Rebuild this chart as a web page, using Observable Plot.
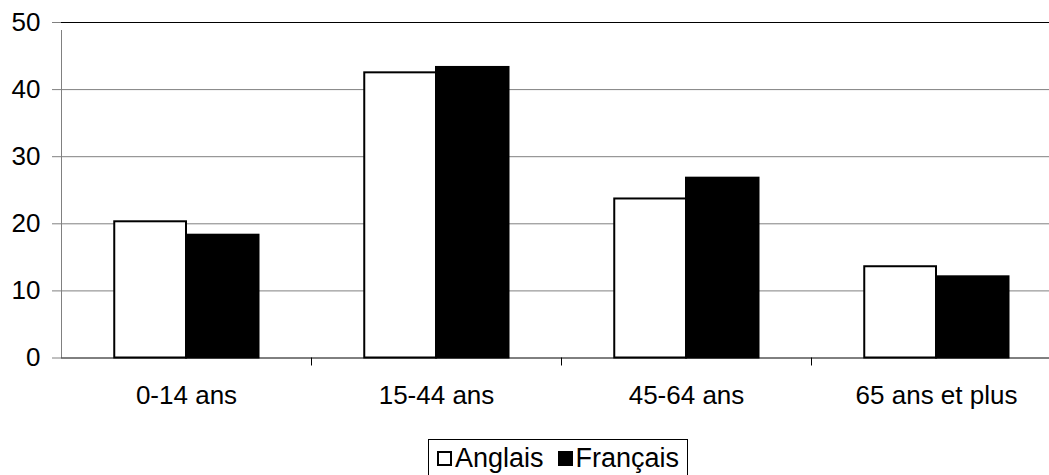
<!DOCTYPE html>
<html><head><meta charset="utf-8">
<script src="https://cdn.jsdelivr.net/npm/d3@7"></script>
<script src="https://cdn.jsdelivr.net/npm/@observablehq/plot@0.6"></script>
<style>
body{margin:0;background:#fff;overflow:hidden;font-family:"Liberation Sans",Arial,sans-serif;}
#chart{position:relative;}
#legend{position:absolute;left:428px;top:439px;height:44px;border:1px solid #000;box-sizing:border-box;display:flex;align-items:flex-start;padding:3px 8px 0 8px;font-size:27px;line-height:30px;background:#fff;}
.item{display:flex;align-items:center;}
.item + .item{margin-left:14px;}
.sw{display:inline-block;width:11px;height:11px;border:2px solid #000;margin-right:3px;}
</style></head><body><div id="chart"></div><div id="legend"></div>
<script>
const categories = ["0-14 ans", "15-44 ans", "45-64 ans", "65 ans et plus"];
const series = ["Anglais", "Français"];
const anglais = [20.3, 42.5, 23.7, 13.6];
const francais = [18.3, 43.3, 26.8, 12.1];
const yTicks = [0, 10, 20, 30, 40, 50];
const seriesColors = ["#ffffff", "#000000"];

const values = {Anglais: anglais, "Français": francais};
const data = categories.flatMap((c, i) => series.map((s) => ({cat: c, i, series: s, value: values[s][i]})));
// bar extents within each category slot (fractions of the slot)
const slot = {Anglais: [0.213, 0.5], "Français": [0.5, 0.79]};

const H = 430;
const plot = Plot.plot({
  width: 1049, height: H,
  marginLeft: 61, marginRight: -12, marginTop: 22, marginBottom: H - 357.5,
  x: {domain: [0, categories.length]},
  y: {domain: [0, 50]},
  color: {domain: series, range: seriesColors},
  style: {fontFamily: "'Liberation Sans', Arial, sans-serif", fontSize: "26px", color: "#000", background: "#fff", overflow: "visible"},
  marks: [
    Plot.gridY(yTicks.filter(d => d > 0 && d < 50), {stroke: "#808080", strokeOpacity: 1}),
    Plot.ruleY([50], {stroke: "#000"}),
    Plot.axisY(yTicks, {tickSize: 9, tickPadding: 12, stroke: "#808080", label: null, fontSize: 26}),
    Plot.ruleX([0], {y1: 0, y2: 50, stroke: "#808080", insetBottom: -8}),
    Plot.axisX([1, 2, 3], {tickSize: 8, tickFormat: () => "", stroke: "#000", label: null}),
    Plot.axisX(categories.map((c, i) => i + 0.5), {tickSize: 0, tickPadding: 28, tickFormat: d => categories[Math.floor(d)], label: null, fontSize: 26}),
    Plot.rectY(data, {
      x1: d => d.i + slot[d.series][0],
      x2: d => d.i + slot[d.series][1],
      y1: 0, y2: "value",
      fill: "series", stroke: "#000", strokeWidth: 2
    }),
    Plot.ruleY([0], {stroke: "#000"})
  ]
});
document.getElementById("chart").appendChild(plot);

const legend = document.getElementById("legend");
series.forEach((s, k) => {
  const it = document.createElement("span");
  it.className = "item";
  const sw = document.createElement("span");
  sw.className = "sw";
  sw.style.background = seriesColors[k];
  it.appendChild(sw);
  it.appendChild(document.createTextNode(s));
  legend.appendChild(it);
});
</script></body></html>
